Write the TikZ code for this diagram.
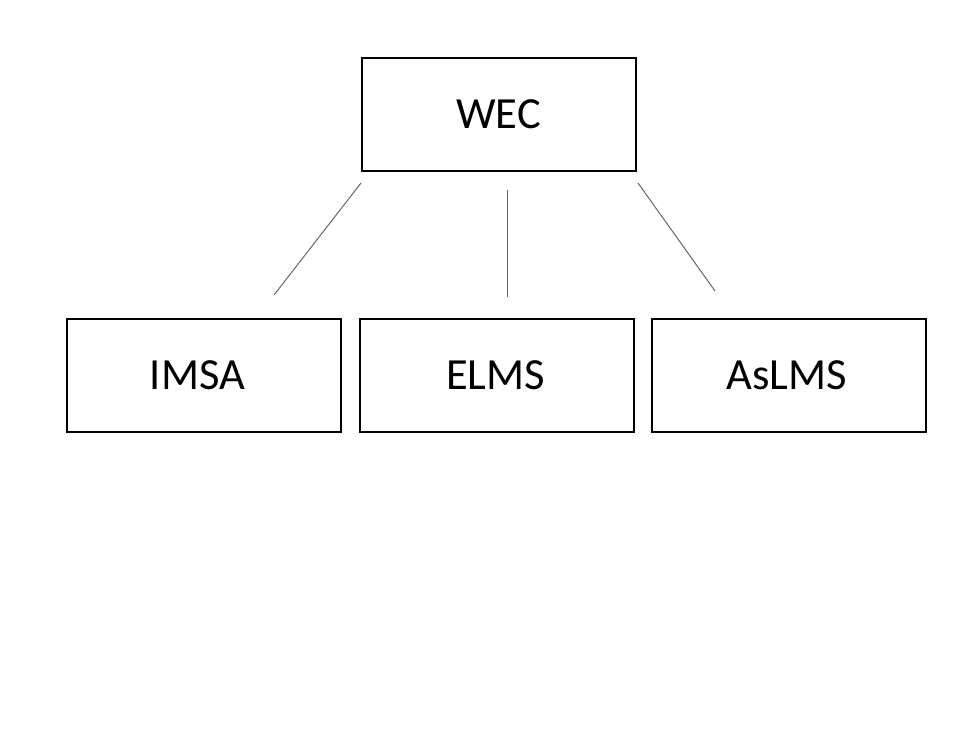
\documentclass[tikz,border=0pt]{standalone}
\usepackage{fontspec}
\setmainfont{Carlito}
\begin{document}
\begin{tikzpicture}[x=1pt,y=-1pt]
\tikzset{
  boxnode/.style={draw=black, line width=2pt, minimum width=274pt, minimum height=113pt, inner sep=0pt, font=\fontsize{44.5}{52}\selectfont},
  link/.style={draw=black!60, line width=1pt}
}
\useasboundingbox[fill=white] (0,0) rectangle (978,734);
\node[boxnode] (wec) at (498.5,114) {WEC};
\node[boxnode] (imsa) at (203.5,375) {IMSA\hspace*{12pt}};
\node[boxnode] (elms) at (497,375) {ELMS\hspace*{3pt}};
\node[boxnode] (aslms) at (788.5,375) {AsLMS\hspace*{4pt}};
\coordinate (l1) at (361,183);
\coordinate (l2) at (274,295);
\coordinate (m1) at (507,190);
\coordinate (m2) at (507,297);
\coordinate (r1) at (638,183);
\coordinate (r2) at (715,291);
\draw[link] (l1) -- (l2);
\draw[link] (m1) -- (m2);
\draw[link] (r1) -- (r2);
\end{tikzpicture}
\end{document}
